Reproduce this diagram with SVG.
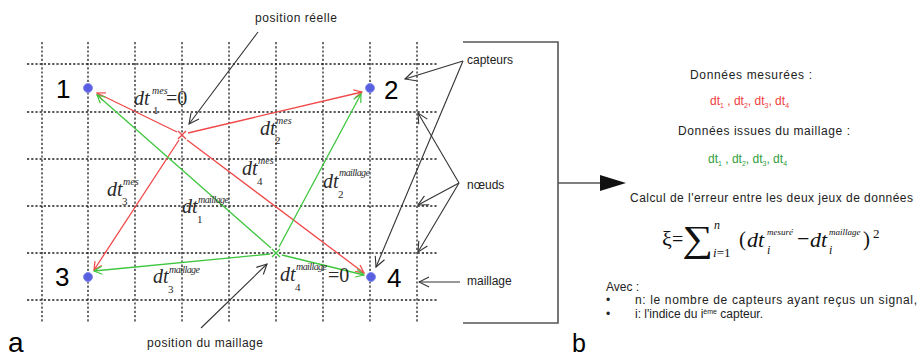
<svg xmlns="http://www.w3.org/2000/svg" width="918" height="358" viewBox="0 0 918 358">
<style>
.grid{stroke:#222;stroke-width:1.3;stroke-dasharray:2.2 2;fill:none}
.red{stroke:#f04848;stroke-width:1.3;fill:none}
.grn{stroke:#3ec63e;stroke-width:1.3;fill:none}
.blk{stroke:#333;stroke-width:1.1;fill:none}
.brk{stroke:#555;stroke-width:1.6;fill:none}
.node{fill:#5860e0;stroke:#8890f0;stroke-width:1}
.num{font-family:"Liberation Sans",Arial,sans-serif;font-size:26px;fill:#000}
.lab{font-family:"Liberation Sans",Arial,sans-serif;font-size:12px;fill:#222}
.dt{font-family:"Liberation Serif","Times New Roman",serif;font-style:italic;font-size:20px;fill:#2a2a2a}
.sup{font-family:"Liberation Serif","Times New Roman",serif;font-style:italic;font-size:10px;fill:#2a2a2a}
.sub{font-family:"Liberation Serif","Times New Roman",serif;font-size:11px;fill:#2a2a2a}
.eq{font-family:"Liberation Serif","Times New Roman",serif;font-size:20px;fill:#2a2a2a}
.fm{font-family:"Liberation Serif","Times New Roman",serif;fill:#111}
.txt{font-family:"Liberation Sans",Arial,sans-serif;font-size:12px;fill:#222}
</style>
<defs>
<marker id="mr" viewBox="0 0 10 10" refX="9" refY="5" markerWidth="10" markerHeight="10" markerUnits="userSpaceOnUse" orient="auto"><path d="M1,1 L9,5 L1,9" fill="none" stroke="#f04848" stroke-width="1.2"/></marker>
<marker id="mg" viewBox="0 0 10 10" refX="9" refY="5" markerWidth="10" markerHeight="10" markerUnits="userSpaceOnUse" orient="auto"><path d="M1,1 L9,5 L1,9" fill="none" stroke="#3ec63e" stroke-width="1.2"/></marker>
<marker id="mk" viewBox="0 0 12 12" refX="11" refY="6" markerWidth="12" markerHeight="12" markerUnits="userSpaceOnUse" orient="auto"><path d="M1,1 L11,6 L1,11" fill="none" stroke="#333" stroke-width="1.1"/></marker>
</defs>

<g id="grid">
<path class="grid" d="M42,42V323 M88,42V323 M135,42V323 M182,42V323 M229,42V323 M276,42V323 M323,42V323 M370,42V323 M417,42V323"/>
<path class="grid" d="M27,64H437 M27,112H437 M27,159H437 M27,206H437 M27,253H437 M27,300H437"/>
</g>

<g id="connectors">
<path class="red" d="M177,132 L97,93" marker-end="url(#mr)"/>
<path class="red" d="M188,133 L362,92" marker-end="url(#mr)"/>
<path class="red" d="M179,140 L94,270" marker-end="url(#mr)"/>
<path class="red" d="M187,140 L364,273" marker-end="url(#mr)"/>
<path class="grn" d="M271,248 L97,95" marker-end="url(#mg)"/>
<path class="grn" d="M279,247 L361,94" marker-end="url(#mg)"/>
<path class="grn" d="M270,254 L94,271" marker-end="url(#mg)"/>
<path class="grn" d="M282,255 L364,275" marker-end="url(#mg)"/>
<path class="blk" d="M258,32 L189,124" marker-end="url(#mk)"/>
<path class="blk" d="M201,328 L267,264" marker-end="url(#mk)"/>
<path class="blk" d="M463,61 L405,79" marker-end="url(#mk)"/>
<path class="blk" d="M463,61 L376,267" marker-end="url(#mk)"/>
<path class="blk" d="M459,183 L418,113" marker-end="url(#mk)"/>
<path class="blk" d="M459,183 L418,205" marker-end="url(#mk)"/>
<path class="blk" d="M459,183 L418,252" marker-end="url(#mk)"/>
<path class="blk" d="M460,282 L419,282" marker-end="url(#mk)"/>
<path class="brk" d="M463,42 H558 V323 H463 M558,183 H604"/>
<path d="M600,175 L626,183 L600,191 Z" fill="#111"/>
</g>

<g id="pos-reelle">
<path class="red" d="M178,131 L186,139 M186,131 L178,139"/>
<text class="lab" x="255" y="22" textLength="82">position réelle</text>
</g>
<g id="pos-maillage">
<path class="grn" d="M272,249 L280,257 M280,249 L272,257"/>
<text class="lab" x="147" y="347" textLength="116">position du maillage</text>
</g>

<g id="node1"><circle class="node" cx="88" cy="88" r="4.5"/><text class="num" x="56" y="98">1</text></g>
<g id="node2"><circle class="node" cx="370" cy="88" r="4.5"/><text class="num" x="384" y="99">2</text></g>
<g id="node3"><circle class="node" cx="88" cy="277" r="4.5"/><text class="num" x="55" y="286">3</text></g>
<g id="node4"><circle class="node" cx="371" cy="277" r="4.5"/><text class="num" x="387" y="287">4</text></g>

<g id="dt-labels">
<text class="dt" x="134" y="105">dt</text><text class="sup" x="152" y="94">mes</text><text class="sub" x="153" y="114">1</text><text class="eq" x="166" y="105">=0</text>
<text class="dt" x="260" y="135">dt</text><text class="sup" x="276" y="124">mes</text><text class="sub" x="275" y="144">2</text>
<text class="dt" x="242" y="175">dt</text><text class="sup" x="258" y="164">mes</text><text class="sub" x="257" y="185">4</text>
<text class="dt" x="107" y="196">dt</text><text class="sup" x="123" y="185">mes</text><text class="sub" x="122" y="205">3</text>
<text class="dt" x="182" y="213">dt</text><text class="sup" x="198" y="203" textLength="31">maillage</text><text class="sub" x="197" y="223">1</text>
<text class="dt" x="323" y="188">dt</text><text class="sup" x="339" y="176" textLength="31">maillage</text><text class="sub" x="338" y="198">2</text>
<text class="dt" x="153" y="283">dt</text><text class="sup" x="169" y="273" textLength="31">maillage</text><text class="sub" x="168" y="293">3</text>
<text class="dt" x="280" y="281">dt</text><text class="sup" x="296" y="270" textLength="31">maillage</text><text class="sub" x="295" y="291">4</text><text class="eq" x="328" y="282">=0</text>
</g>

<g id="side-labels">
<text class="lab" x="467" y="64">capteurs</text>
<text class="lab" x="467" y="189">nœuds</text>
<text class="lab" x="467" y="285">maillage</text>
<text class="num" x="8" y="352" style="font-size:28px">a</text>
<text class="num" x="572" y="352" style="font-size:25px">b</text>
</g>

<g id="panel-b">
<text class="txt" x="690" y="79" textLength="122">Données mesurées :</text>
<text class="txt" x="710" y="105" style="fill:#f03c3c">dt<tspan dy="3" font-size="7">1</tspan><tspan dy="-3"> , dt</tspan><tspan dy="3" font-size="7">2</tspan><tspan dy="-3">, dt</tspan><tspan dy="3" font-size="7">3</tspan><tspan dy="-3">, dt</tspan><tspan dy="3" font-size="7">4</tspan></text>
<text class="txt" x="678" y="135" textLength="172">Données issues du maillage :</text>
<text class="txt" x="708" y="163" style="fill:#2f9e3a">dt<tspan dy="3" font-size="7">1</tspan><tspan dy="-3"> , dt</tspan><tspan dy="3" font-size="7">2</tspan><tspan dy="-3">, dt</tspan><tspan dy="3" font-size="7">3</tspan><tspan dy="-3">, dt</tspan><tspan dy="3" font-size="7">4</tspan></text>
<text class="txt" x="630" y="202" textLength="283">Calcul de l'erreur entre les deux jeux de données</text>
<g id="formula">
<text class="fm" x="662" y="246" font-size="22">ξ</text>
<text class="fm" x="672" y="246" font-size="20">=</text>
<text class="fm" transform="translate(682,251) scale(1.35,1.15)" x="0" y="0" font-size="32">∑</text>
<text class="fm" x="714" y="229" font-size="12" font-style="italic">n</text>
<text class="fm" x="713" y="257" font-size="13"><tspan font-style="italic">i</tspan>=1</text>
<text class="fm" x="739" y="246" font-size="21">(</text>
<text class="fm" x="747" y="247" font-size="22" font-style="italic">dt</text>
<text class="fm" x="767" y="235" font-size="9" font-style="italic">mesuré</text>
<text class="fm" x="767" y="254" font-size="12" font-style="italic">i</text>
<text class="fm" x="797" y="246" font-size="22">−</text>
<text class="fm" x="810" y="247" font-size="22" font-style="italic">dt</text>
<text class="fm" x="829" y="235" font-size="9" font-style="italic">maillage</text>
<text class="fm" x="829" y="254" font-size="12" font-style="italic">i</text>
<text class="fm" x="863" y="246" font-size="21">)</text>
<text class="fm" x="873" y="238" font-size="13">2</text>
</g>
<text class="txt" x="606" y="291">Avec :</text>
<text class="txt" x="606" y="304">•</text>
<text class="txt" x="635" y="304" textLength="282">n: le nombre de capteurs ayant reçus un signal,</text>
<text class="txt" x="606" y="318">•</text>
<text class="txt" x="635" y="318">i: l'indice du i<tspan dy="-4" font-size="7">ème</tspan><tspan dy="4"> capteur.</tspan></text>
</g>
</svg>
